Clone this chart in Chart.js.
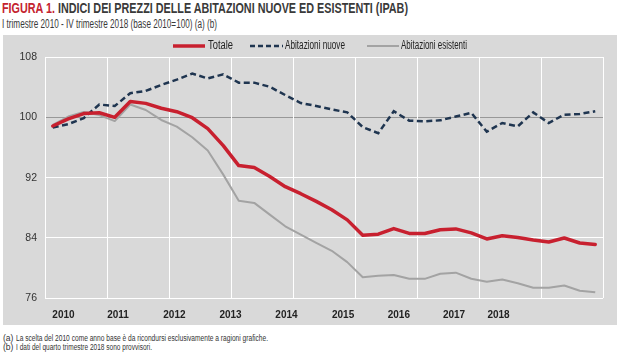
<!DOCTYPE html>
<html>
<head>
<meta charset="utf-8">
<script src="https://cdn.jsdelivr.net/npm/chart.js@4/dist/chart.umd.min.js"></script>
<style>
  html, body { margin:0; padding:0; background:#ffffff; }
  body { width:624px; height:356px; position:relative; overflow:hidden;
         font-family:"Liberation Sans",Arial,sans-serif; }
  .abs { position:absolute; white-space:nowrap; transform-origin:0 0; }
  #title { left:2px; top:0px; font-size:14.5px; font-weight:bold; color:#3a3a3a; }
  #title .red { color:#c4232f; }
  #subtitle { left:2px; top:17px; font-size:12px; color:#3a3a3a; }
  #panel { left:3px; top:35px; width:614px; height:290px; background:#d9d9d9; }
  .leg { font-size:12.5px; color:#222; top:38px; }
  .legsvg { position:absolute; top:41px; }
  .note { font-size:8.5px; color:#333; }
</style>
</head>
<body>
<div id="title" class="abs" data-w="406"><span class="red">FIGURA 1.</span> INDICI DEI PREZZI DELLE ABITAZIONI NUOVE ED ESISTENTI (IPAB)</div>
<div id="subtitle" class="abs" data-w="215">I trimestre 2010 - IV trimestre 2018 (base 2010=100) (a) (b)</div>
<div id="panel" class="abs"><canvas id="c" width="614" height="290"></canvas></div>

<svg class="legsvg" style="left:173px" width="32" height="10"><line x1="0" y1="5" x2="32" y2="5" stroke="#c8202f" stroke-width="3.5"/></svg>
<div class="abs leg" style="left:208px" data-w="25">Totale</div>
<svg class="legsvg" style="left:250px" width="33" height="10"><line x1="0" y1="5" x2="33" y2="5" stroke="#1f3550" stroke-width="2.5" stroke-dasharray="5,3"/></svg>
<div class="abs leg" style="left:285px" data-w="60">Abitazioni nuove</div>
<svg class="legsvg" style="left:367px" width="32" height="10"><line x1="0" y1="5" x2="32" y2="5" stroke="#a3a3a3" stroke-width="2"/></svg>
<div class="abs leg" style="left:401px" data-w="66">Abitazioni esistenti</div>

<div class="abs note" style="left:3px;top:333px">(a)</div>
<div class="abs note" style="left:16px;top:333px" data-w="252">La scelta del 2010 come anno base è da ricondursi esclusivamente a ragioni grafiche.</div>
<div class="abs note" style="left:3px;top:342px">(b)</div>
<div class="abs note" style="left:16px;top:342px" data-w="136">I dati del quarto trimestre 2018 sono provvisori.</div>

<script>
// ---- Data (I trim. 2010 – IV trim. 2018, base 2010=100) ----
const quarters = [
  "2010 T1","2010 T2","2010 T3","2010 T4","2011 T1","2011 T2","2011 T3","2011 T4",
  "2012 T1","2012 T2","2012 T3","2012 T4","2013 T1","2013 T2","2013 T3","2013 T4",
  "2014 T1","2014 T2","2014 T3","2014 T4","2015 T1","2015 T2","2015 T3","2015 T4",
  "2016 T1","2016 T2","2016 T3","2016 T4","2017 T1","2017 T2","2017 T3","2017 T4",
  "2018 T1","2018 T2","2018 T3","2018 T4"
];
const totale = [98.85, 99.8, 100.5, 100.6, 100.0, 102.1, 101.85, 101.2, 100.75, 99.95,
  98.5, 96.25, 93.6, 93.35, 92.15, 90.8, 89.87, 88.85, 87.75, 86.4,
  84.35, 84.5, 85.25, 84.6, 84.6, 85.1, 85.2, 84.67, 83.87, 84.3,
  84.05, 83.73, 83.47, 84.0, 83.33, 83.15];
const nuove = [98.63, 99.1, 99.9, 101.7, 101.5, 103.2, 103.5, 104.3, 105.0, 105.8,
  105.15, 105.7, 104.6, 104.6, 104.05, 102.95, 101.9, 101.5, 101.05, 100.66,
  98.7, 97.9, 100.8, 99.56, 99.47, 99.6, 100.1, 100.6, 98.1, 99.25,
  98.8, 100.66, 99.25, 100.35, 100.44, 100.8];
const esistenti = [99.0, 100.1, 100.7, 100.3, 99.5, 101.7, 100.97, 99.65, 98.77, 97.36,
  95.6, 92.4, 88.95, 88.65, 87.1, 85.55, 84.45, 83.35, 82.3, 80.8,
  78.8, 78.98, 79.1, 78.6, 78.58, 79.25, 79.4, 78.6, 78.2, 78.5,
  78.0, 77.4, 77.4, 77.7, 77.0, 76.8];
const yearLabels = ["2010","2011","2012","2013","2014","2015","2016","2017","2018"];
const yTicks = [76, 84, 92, 100, 108];

// label placement (in quarter-index units, as in the original layout)
const yearLabelPos = [0.69, 4.21, 7.85, 11.47, 15.08, 18.73, 22.33, 25.89, 28.76];
const yearBounds = yearLabels.map((_, i) => i * 4 - 0.5).concat([yearLabels.length * 4 - 0.5]);

// condense HTML text to the narrow widths of the original typeface
document.querySelectorAll('[data-w]').forEach(el => {
  const w = el.getBoundingClientRect().width;
  const target = parseFloat(el.dataset.w);
  if (w > 0) el.style.transform = 'scaleX(' + (target / w) + ')';
});

const toXY = arr => arr.map((v, i) => ({ x: i, y: v }));

new Chart(document.getElementById('c'), {
  type: 'line',
  data: {
    labels: quarters,
    datasets: [
      { label: 'Totale', data: toXY(totale), borderColor: '#c8202f', borderWidth: 3.5,
        pointRadius: 0, tension: 0, borderJoinStyle: 'round', borderCapStyle: 'round', xAxisID: 'x' },
      { label: 'Abitazioni nuove', data: toXY(nuove), borderColor: '#1f3550', borderWidth: 2.5,
        borderDash: [6, 3.5], pointRadius: 0, tension: 0, xAxisID: 'x' },
      { label: 'Abitazioni esistenti', data: toXY(esistenti), borderColor: '#a3a3a3', borderWidth: 2,
        pointRadius: 0, tension: 0, borderJoinStyle: 'round', xAxisID: 'x' }
    ]
  },
  options: {
    responsive: false,
    animation: false,
    layout: { padding: { top: 22, right: 14, left: 0, bottom: 0 } },
    plugins: { legend: { display: false }, tooltip: { enabled: false } },
    scales: {
      y: {
        min: 76, max: 108,
        afterBuildTicks: s => { s.ticks = yTicks.map(v => ({ value: v })); },
        afterFit: s => { s.width = 42; },
        ticks: { padding: 8, color: '#333',
          font: { family: '"Liberation Sans",Arial,sans-serif', size: 10.5 } },
        grid: { color: c => (c.tick && c.tick.value === 100) ? '#989898' : '#ffffff',
                lineWidth: 1, drawTicks: false },
        border: { display: false }
      },
      x: {
        type: 'linear', position: 'bottom', min: -0.5, max: 35.5,
        afterBuildTicks: s => { s.ticks = yearBounds.map(v => ({ value: v })); },
        afterFit: s => { s.height = 0; },
        ticks: { display: false },
        grid: { color: '#ffffff', lineWidth: 1, drawTicks: false },
        border: { display: false }
      },
      xl: {
        type: 'linear', position: 'bottom', min: -0.5, max: 35.5,
        afterBuildTicks: s => { s.ticks = yearLabelPos.map(v => ({ value: v })); },
        afterFit: s => { s.height = 26.7; },
        ticks: { autoSkip: false, maxRotation: 0, padding: 11, color: '#222',
          callback: (v, i) => yearLabels[i],
          font: { family: '"Liberation Sans",Arial,sans-serif', size: 10, weight: 'bold' } },
        grid: { display: false, drawTicks: false },
        border: { display: false }
      }
    }
  }
});
</script>
</body>
</html>
